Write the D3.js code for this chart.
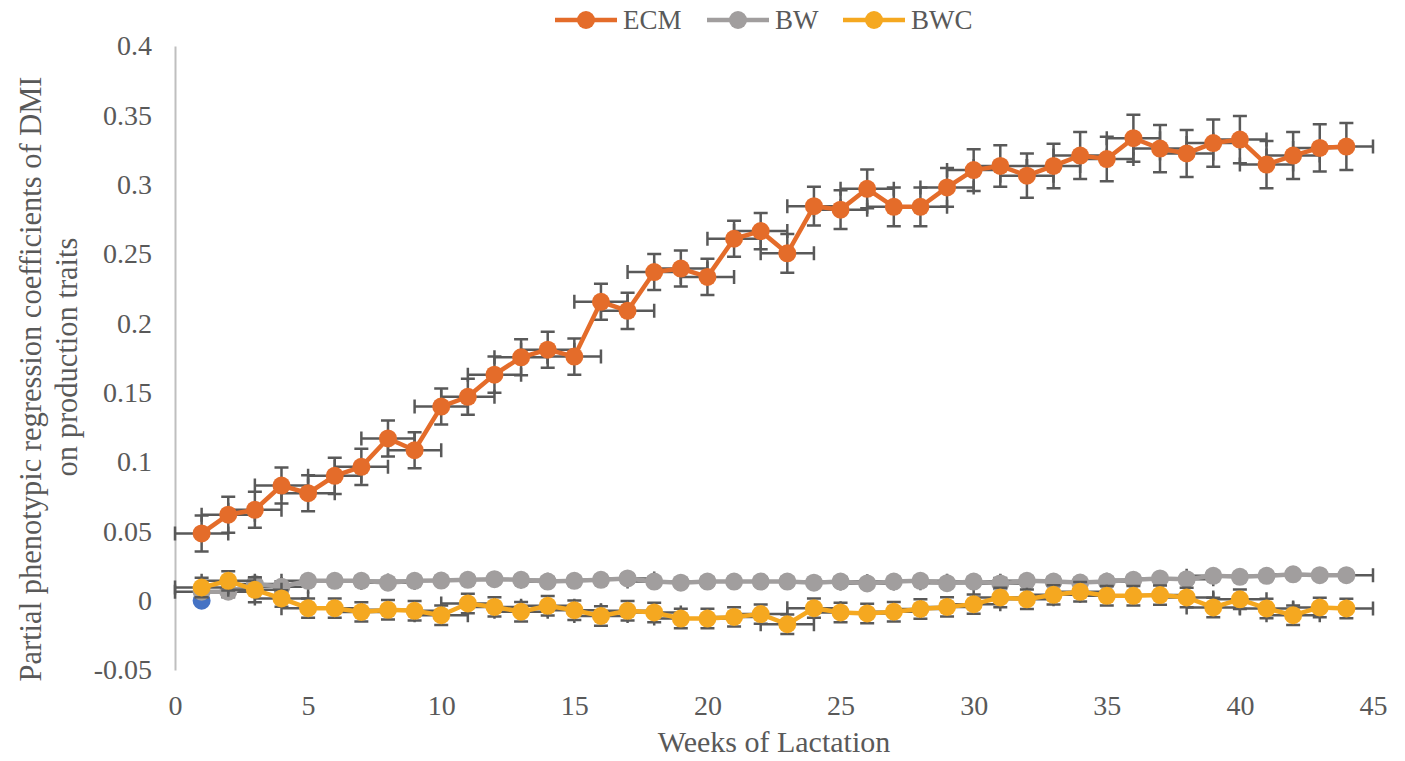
<!DOCTYPE html>
<html>
<head>
<meta charset="utf-8">
<script src="https://cdn.jsdelivr.net/npm/d3@7"></script>
<style>
  body { margin: 0; background: #fff; }
</style>
</head>
<body>
<div id="chart"></div>
<script>
// weeks of lactation
const weeks = [1,2,3,4,5,6,7,8,9,10,11,12,13,14,15,16,17,18,19,20,21,22,
  23,24,25,26,27,28,29,30,31,32,33,34,35,36,37,38,39,40,41,42,43,44];

// ECM coefficients and SE
const ecm = [0.0485,0.062,0.0655,0.083,0.0775,0.090,0.0965,0.117,0.1085,0.140,
  0.147,0.163,0.1755,0.181,0.176,0.2155,0.209,0.237,0.2395,0.2335,0.261,0.2665,
  0.2505,0.2845,0.282,0.297,0.284,0.284,0.298,0.3105,0.3135,0.3065,0.3135,0.321,
  0.3185,0.3335,0.326,0.3225,0.330,0.3325,0.3145,0.321,0.3265,0.3275];
const ecmErr = [0.013,0.013,0.013,0.013,0.013,0.013,0.013,0.013,0.013,0.013,
  0.013,0.013,0.013,0.013,0.013,0.013,0.013,0.013,0.013,0.013,0.013,0.013,
  0.014,0.014,0.014,0.014,0.014,0.014,0.014,0.015,0.015,0.016,0.016,0.017,
  0.016,0.017,0.017,0.017,0.017,0.017,0.017,0.017,0.017,0.017];

// BW coefficients and SE
const bw = [0.0065,0.0065,0.012,0.010,0.0143,0.0143,0.0143,0.013,0.0143,0.0145,
  0.015,0.0155,0.015,0.0138,0.0143,0.015,0.016,0.0138,0.013,0.0138,0.0138,0.0138,
  0.0138,0.013,0.0138,0.0124,0.0138,0.0143,0.0126,0.0138,0.0124,0.0143,0.0138,0.0131,
  0.0138,0.015,0.016,0.0155,0.0179,0.0172,0.0179,0.019,0.0184,0.0184];
const bwErr = [0.004,0.004,0.004,0.004,0.003,0.003,0.003,0.003,0.003,0.003,
  0.003,0.003,0.003,0.003,0.003,0.003,0.003,0.003,0.003,0.003,0.003,0.003,
  0.003,0.003,0.003,0.003,0.003,0.003,0.003,0.003,0.004,0.003,0.003,0.003,
  0.003,0.003,0.003,0.003,0.003,0.003,0.003,0.003,0.003,0.003];

// BWC coefficients and SE
const bwc = [0.0095,0.0143,0.0078,0.0016,-0.0054,-0.0054,-0.0081,-0.0066,-0.0073,-0.0105,
  -0.002,-0.0045,-0.008,-0.0037,-0.0069,-0.011,-0.0073,-0.0085,-0.0129,-0.0129,-0.0117,-0.0097,
  -0.017,-0.0054,-0.0085,-0.0092,-0.008,-0.006,-0.0045,-0.0025,0.0023,0.001,0.0042,0.0064,
  0.0035,0.0035,0.004,0.0023,-0.0049,0.001,-0.0056,-0.0105,-0.0049,-0.0056];
const bwcErr = [0.007,0.007,0.009,0.006,0.007,0.007,0.007,0.007,0.007,0.007,
  0.007,0.007,0.007,0.007,0.007,0.007,0.007,0.007,0.007,0.007,0.007,0.007,
  0.007,0.007,0.007,0.007,0.007,0.007,0.007,0.007,0.007,0.007,0.007,0.007,
  0.007,0.007,0.007,0.007,0.007,0.007,0.007,0.007,0.007,0.007];

// horizontal error (weeks)
const weekErr = 1;

// stray point at week 1
const extraWeeks = [1];
const extraValues = [0];

const seriesNames = ["ECM", "BW", "BWC"];
const xTicks = [0,5,10,15,20,25,30,35,40,45];
const yTicks = [-0.05,0,0.05,0.1,0.15,0.2,0.25,0.3,0.35,0.4];

const width = 1405, height = 761;
const font = "'Liberation Serif', 'DejaVu Serif', serif";
const textColor = "#595959";
const colors = { ECM: "#e46c2a", BW: "#a19e9e", BWC: "#f5a820" };

const svg = d3.select("#chart").append("svg")
  .attr("width", width)
  .attr("height", height)
  .attr("font-family", font);

const x = d3.scaleLinear().domain([0, 45]).range([175, 1373]);
const y = d3.scaleLinear().domain([-0.05, 0.4]).range([670, 46]);

// Y axis: plain line with labels
const yAxis = svg.append("g")
  .attr("transform", "translate(175,0)")
  .call(d3.axisLeft(y).tickValues(yTicks).tickSize(0).tickPadding(23)
    .tickFormat(d => String(+d.toFixed(2))));
yAxis.attr("font-family", font).attr("font-size", 28);
yAxis.select(".domain").attr("stroke", "#bfbfbf").attr("stroke-width", 2);
yAxis.selectAll("text").attr("fill", textColor);

// X axis: labels only
const xAxis = svg.append("g")
  .attr("transform", "translate(0,670)")
  .call(d3.axisBottom(x).tickValues(xTicks).tickSize(0).tickPadding(25));
xAxis.attr("font-family", font).attr("font-size", 28);
xAxis.select(".domain").remove();
xAxis.selectAll("text").attr("fill", textColor);

// Axis titles
svg.append("text")
  .attr("x", x(22.5))
  .attr("y", 752)
  .attr("text-anchor", "middle")
  .attr("font-size", 30)
  .attr("fill", textColor)
  .text("Weeks of Lactation");

svg.append("text")
  .attr("transform", `translate(41,379) rotate(-90)`)
  .attr("text-anchor", "middle")
  .attr("font-size", 30.5)
  .attr("fill", textColor)
  .text("Partial phenotypic regression coefficients of DMI");
svg.append("text")
  .attr("transform", `translate(77,357) rotate(-90)`)
  .attr("text-anchor", "middle")
  .attr("font-size", 30.5)
  .attr("fill", textColor)
  .text("on production traits");

// build series
const series = [
  { name: "ECM", values: ecm, err: ecmErr },
  { name: "BW", values: bw, err: bwErr },
  { name: "BWC", values: bwc, err: bwcErr }
].map(s => ({
  name: s.name,
  points: weeks.map((w, i) => ({ w: w, v: s.values[i], e: s.err[i] }))
}));

// stray blue point
svg.selectAll("circle.extra")
  .data(extraWeeks.map((w, i) => ({ w: w, v: extraValues[i] })))
  .enter().append("circle")
  .attr("class", "extra")
  .attr("cx", d => x(d.w))
  .attr("cy", d => y(d.v))
  .attr("r", 9)
  .attr("fill", "#4472c4");

const line = d3.line().x(d => x(d.w)).y(d => y(d.v));
const cap = 7;

series.forEach(s => {
  const g = svg.append("g");
  const eb = g.append("g")
    .attr("stroke", "#595959")
    .attr("stroke-width", 2.5)
    .attr("fill", "none");

  // horizontal error bars
  eb.selectAll("path.h")
    .data(s.points)
    .enter().append("path")
    .attr("class", "h")
    .attr("d", d => {
      const x0 = x(d.w - weekErr), x1 = x(d.w + weekErr), yy = y(d.v);
      return `M${x0},${yy}H${x1}M${x0},${yy - cap}V${yy + cap}M${x1},${yy - cap}V${yy + cap}`;
    });

  // vertical error bars
  eb.selectAll("path.v")
    .data(s.points)
    .enter().append("path")
    .attr("class", "v")
    .attr("d", d => {
      const xx = x(d.w), y0 = y(d.v + d.e), y1 = y(d.v - d.e);
      return `M${xx},${y0}V${y1}M${xx - cap},${y0}H${xx + cap}M${xx - cap},${y1}H${xx + cap}`;
    });

  g.append("path")
    .datum(s.points)
    .attr("fill", "none")
    .attr("stroke", colors[s.name])
    .attr("stroke-width", 4.5)
    .attr("d", line);

  g.selectAll("circle")
    .data(s.points)
    .enter().append("circle")
    .attr("cx", d => x(d.w))
    .attr("cy", d => y(d.v))
    .attr("r", 9)
    .attr("fill", colors[s.name]);
});

// Legend
const legendX = [555, 707, 843];
const legend = svg.append("g");
seriesNames.forEach((name, i) => {
  const lg = legend.append("g").attr("transform", `translate(${legendX[i]},20)`);
  lg.append("line")
    .attr("x1", 0).attr("x2", 62)
    .attr("stroke", colors[name])
    .attr("stroke-width", 4.5);
  lg.append("circle")
    .attr("cx", 31).attr("r", 9)
    .attr("fill", colors[name]);
  lg.append("text")
    .attr("x", 68)
    .attr("y", 9)
    .attr("font-size", 27)
    .attr("fill", textColor)
    .text(name);
});
</script>
</body>
</html>
